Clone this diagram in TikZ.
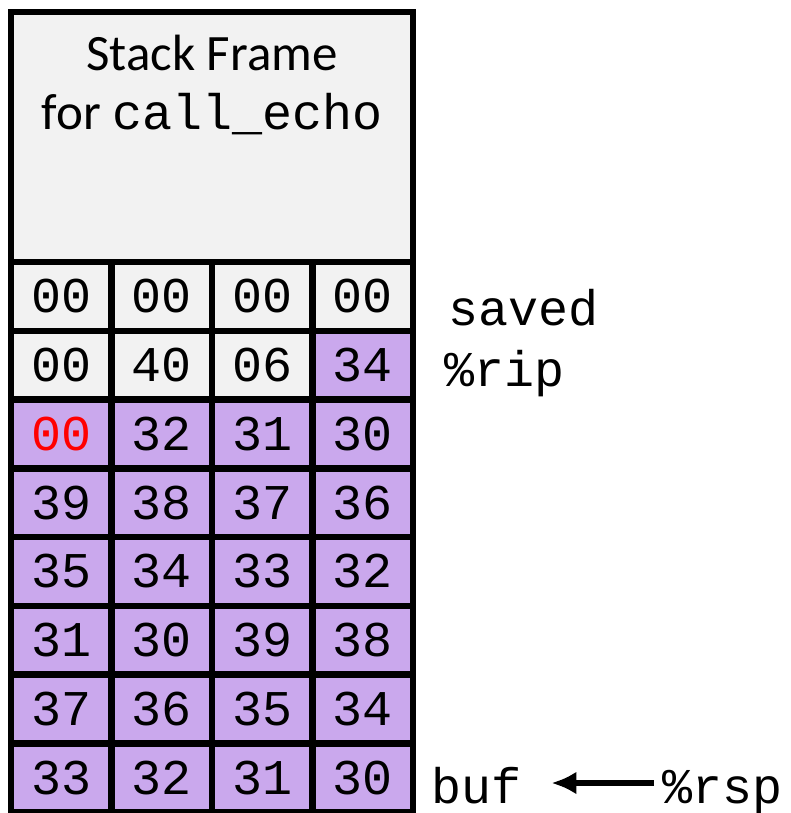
\documentclass[tikz,border=0pt]{standalone}
\usepackage{fontspec}
\setmainfont{Carlito}
\setmonofont{Liberation Mono}
\usetikzlibrary{arrows.meta}
\definecolor{cellgray}{RGB}{242,242,242}
\definecolor{cellpurple}{RGB}{202,168,237}
\newcommand{\mono}{\fontsize{50}{54}\selectfont\ttfamily}
\begin{document}
\begin{tikzpicture}[x=1pt,y=-1pt,
  cellbox/.style={draw=black, line width=6.5pt, minimum width=100.5pt, minimum height=68.75pt, inner sep=0pt, font=\mono},
  g/.style={cellbox, fill=cellgray},
  p/.style={cellbox, fill=cellpurple},
  lbl/.style={font=\mono, inner sep=0pt, anchor=base west},
  ttl/.style={font=\fontsize{51}{58}\selectfont, inner sep=0pt, anchor=base}]
\useasboundingbox (0,0) rectangle (791,813);
\node[draw=black, line width=5.5pt, fill=cellgray, minimum width=402pt, minimum height=250pt, inner sep=0pt] (frame) at (212,137) {};
\node[ttl] (title1) at (212,71) {Stack Frame};
\node[ttl] (title2) at (212,130) {for {\mono call\_echo}};
% rows
\foreach \r/\a/\b/\c/\d/\sa/\sb/\sc/\sd in {
  1/00/00/00/00/g/g/g/g,
  2/00/40/06/34/g/g/g/p,
  3/\textcolor{red}{00}/32/31/30/p/p/p/p,
  4/39/38/37/36/p/p/p/p,
  5/35/34/33/32/p/p/p/p,
  6/31/30/39/38/p/p/p/p,
  7/37/36/35/34/p/p/p/p,
  8/33/32/31/30/p/p/p/p}{
  \node[\sa] (c\r-1) at (61.25,{262+(\r-0.5)*68.75}) {\a};
  \node[\sb] (c\r-2) at (161.75,{262+(\r-0.5)*68.75}) {\b};
  \node[\sc] (c\r-3) at (262.25,{262+(\r-0.5)*68.75}) {\c};
  \node[\sd] (c\r-4) at (362.75,{262+(\r-0.5)*68.75}) {\d};
}
\node[lbl] (saved) at (448,325) {saved};
\node[lbl] (rip) at (444,386) {\%rip};
\node[lbl] (buf) at (431,803) {buf};
\node[lbl] (rsp) at (662,803) {\%rsp};
\draw[line width=6.5pt, -{Latex[length=25pt,width=23pt]}] ([xshift=-8pt,yshift=20pt]rsp.base west) -- ([xshift=30pt,yshift=20pt]buf.base east);
\end{tikzpicture}
\end{document}
